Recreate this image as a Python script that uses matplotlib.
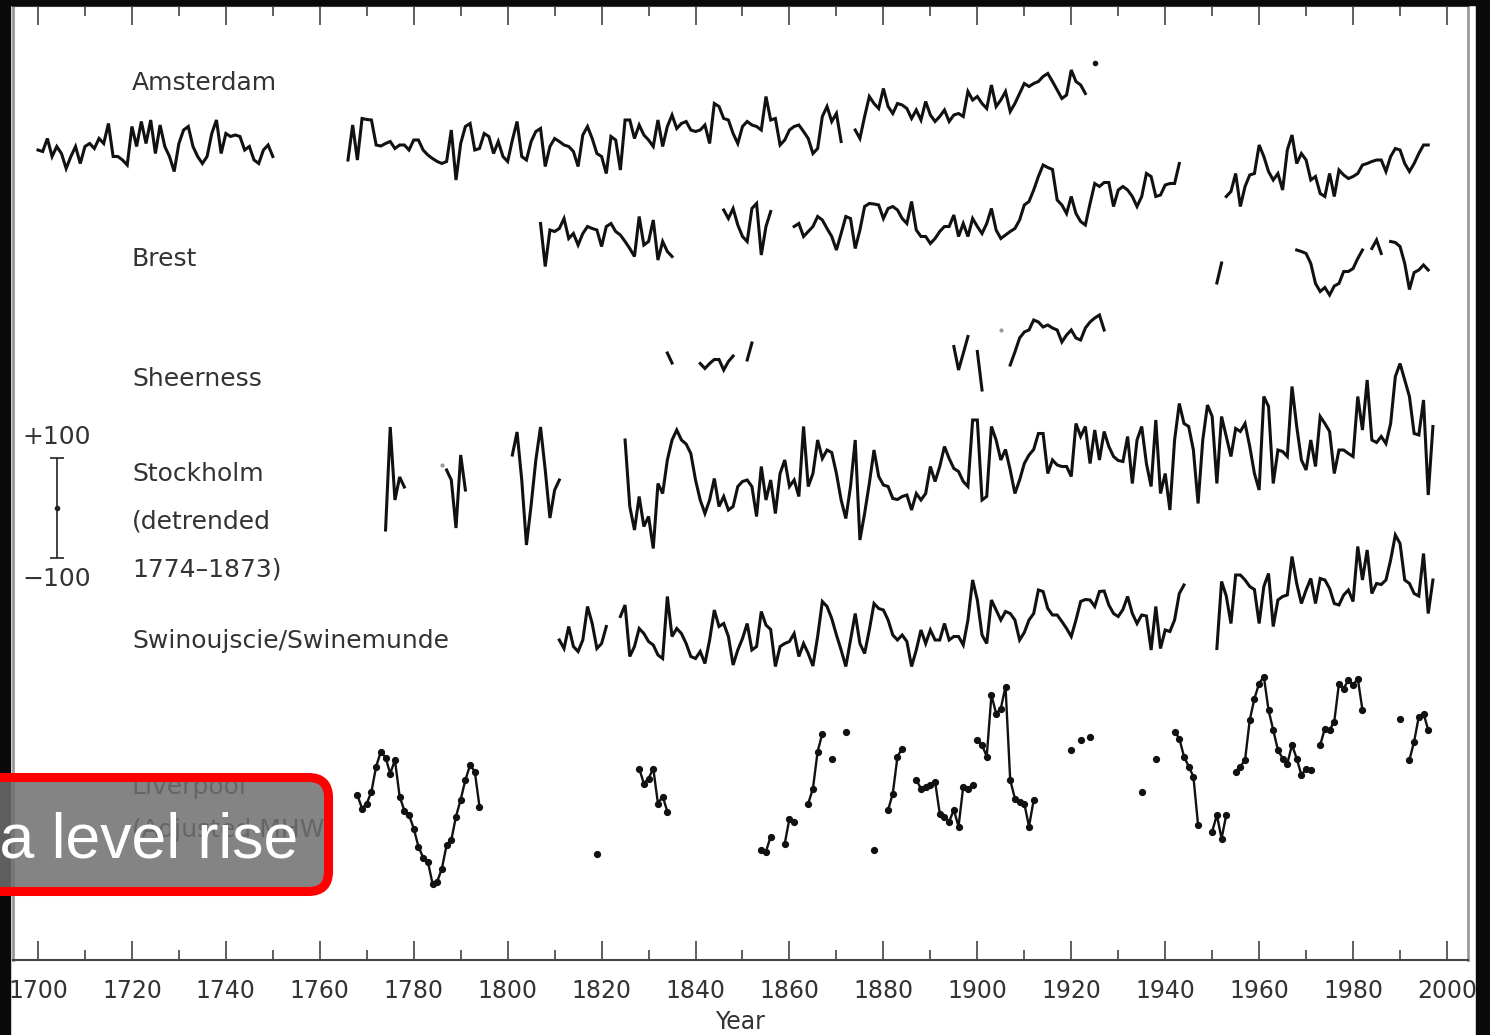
import numpy as np
import matplotlib
matplotlib.use("Agg")
import matplotlib.pyplot as plt
from matplotlib.patches import FancyBboxPatch, Rectangle
from matplotlib.ticker import MultipleLocator
from matplotlib.transforms import IdentityTransform

# annual mean sea level (mm), each list starts at the year given in its name
ams_1700 = [0, -3, 23, -13, 7, -7, -37, -13, 7, -27, 7, 13, 3, 23, 13, 53, -13, -13, -20, -30,
            47, 7, 57, 13, 60, -7, 50, 7, -13, -43, 13, 40, 47, 7, -13, -27, -13, 33, 60, -7,
            33, 27, 30, 27, 0, 7, -20, -27, 0, 10, -13]
ams_1766 = [-20, 50, -20, 63, 61, 60, 10, 8, 13, 17, 3, 10, 10, 0, 20, 20, 0, -10, -17, -23,
            -27, -23, 40, -60, 13, 47, 53, 0, 3, 33, 27, -7, 17, -13, -23, 20, 57, -13, -20, 17,
            37, 43, -33, 7, 23, 17, 10, 7, -3, -33, 30, 47, 23, -7, -13, -47, 27, 20, -40, 60,
            60, 23, 50, 30, 20, 7, 60, 7, 47, 70, 43, 53, 57, 40, 37, 40, 50, 13, 93, 87,
            63, 60, 33, 13, 47, 57, 50, 47, 40, 107, 60, 63, 10, 20, 40, 47, 50, 37, 23, -7,
            3, 67, 87, 57, 73, 17]
ams_1874 = [40, 23, 67, 107, 93, 83, 123, 87, 73, 93, 90, 83, 63, 80, 60, 97, 70, 57, 67, 80,
            57, 70, 73, 67, 117, 100, 107, 93, 83, 130, 87, 100, 117, 77, 93, 113, 133, 127, 133, 137,
            147, 153, 137, 120, 103, 110, 160, 137, 130, 113]
ams_1925 = [174]

brest_1807 = [33, -53, 20, 17, 23, 43, 3, 13, -10, 13, 27, 23, 20, -13, 27, 33, 17, 10, -3, -17,
              -33, 47, -10, -3, 40, -40, -3, -23, -33]
brest_1846 = [60, 43, 63, 30, 7, -3, 63, 73, -30, 27, 57]
brest_1861 = [27, 33, 7, 17, 27, 47, 40, 23, 7, -20, 13, 47, 43, -17, 20, 67, 73, 72, 70, 43,
              63, 67, 60, 43, 33, 77, 20, 7, 7, -7, 3, 17, 27, 27, 50, 7, 33, 7, 43, 27,
              13, 33, 63, 20, 3, 10, 17, 23, 40, 70, 77, 100, 127, 150, 145, 141, 80, 70, 53, 87,
              53, 37, 30, 73, 113, 107, 115, 115, 67, 100, 107, 100, 87, 67, 87, 133, 127, 87, 90, 110,
              113, 113, 153]
brest_1953 = [87, 97, 133, 67, 107, 130, 133, 190, 167, 137, 120, 133, 100, 180, 210, 153, 173, 160, 120, 127,
              93, 87, 133, 87, 140, 130, 123, 127, 133, 150, 153, 157, 160, 160, 137, 167, 183, 180, 153, 137,
              153, 173, 190, 190]

sheer_1834 = [14, -6]
sheer_1841 = [-7, -17, -7, 1, 1, -20, -3, 8]
sheer_1851 = [0, 34]
sheer_1895 = [27, -20, 13, 47]
sheer_1900 = [17, -60]
sheer_1905 = [60]
sheer_1907 = [-10, 16, 44, 56, 60, 80, 76, 66, 70, 64, 60, 36, 50, 60, 44, 40, 64, 76, 84, 90, 60]
sheer_1951 = [154, 194]
sheer_1968 = [220, 217, 213, 193, 153, 137, 145, 130, 148, 153, 177, 177, 183, 203, 220]
sheer_1984 = [223, 240, 213]
sheer_1988 = [237, 235, 227, 193, 141, 175, 180, 190, 180]

stock_1774 = [-100, 106, -40, 6, -14]
stock_1786 = [30]
stock_1787 = [20, 0, -96, 50, -20]
stock_1801 = [50, 96, 0, -130, -50, 40, 106, 20, -76, -20, 0]
stock_1825 = [80, -53, -100, -33, -93, -73, -137, -7, -27, 40, 80, 100, 80, 72, 53, 0, -40, -67, -40, 3,
              -53, -33, -60, -53, -13, -3, 0, -13, -73, 27, -40, 0, -67, 13, 40, -13, 0, -33, 107, -13,
              13, 80, 43, 60, 55, 13, -40, -77, -13, 80, -120, -67, -7, 60, 7, -10, -13, -37, -39, -33,
              -30, -60, -27, -40, -27, 27, -3, 27, 67, 43, 23, 17, -3, -13, 120, 120, -40, -33, 107, 80,
              40, 61, 20, -27, 0, 33, 50, 61, 93, 93, 13, 40, 30, 27, 27, 7, 113, 87, 107, 33,
              100, 40, 97, 67, 47, 39, 37, 87, -7, 80, 107, 33, -13, 120, -27, 13, -60, 80, 153, 113,
              107, 60, -47, 80, 150, 127, -7, 127, 87, 47, 103, 97, 113, 67, 13, -20, 167, 147, -7, 60,
              57, 47, 187, 107, 40, 20, 80, 27, 127, 113, 97, 13, 60, 60, 53, 47, 167, 100, 200, 80,
              75, 87, 73, 113, 207, 233, 200, 167, 93, 90, 160, -30, 107]

swin_1811 = [0, -17, 27, -13, -23, 0, 67, 33, -17, -7, 27]
swin_1824 = [47, 70, -33, -13, 23, 13, -3, -10, -30, -37, 87, 7, 23, 13, -7, -33, -37, -23, -47, 0,
             60, 27, 33, 7, -50, -20, 3, 33, -20, -13, 57, 30, 21, -53, -13, -7, -3, 13, -33, -7,
             -27, -52, 7, 77, 67, 43, 10, -20, -53, 0, 53, -7, -27, 20, 73, 63, 60, 40, 10, 0,
             10, -3, -53, -20, 20, -7, 20, 0, 0, 33, 0, 7, 7, -10, 40, 120, 80, 10, -7, 80,
             60, 40, 57, 53, 40, 0, 15, 40, 53, 100, 97, 63, 50, 50, 37, 23, 7, 40, 77, 81,
             80, 67, 97, 98, 70, 53, 47, 61, 87, 53, 33, 50, 48, -20, 67, -17, 20, 17, 40, 93,
             110]
swin_1951 = [-17, 117, 88, 33, 130, 130, 120, 107, 101, 33, 107, 133, 27, 80, 87, 90, 167, 113, 73, 100,
             123, 73, 123, 120, 103, 73, 70, 90, 100, 77, 187, 120, 180, 93, 113, 111, 120, 160, 210, 193,
             120, 113, 93, 88, 173, 53, 120]

# Liverpool adjusted mean high water, mm
liv_1768 = [10, -17, -7, 17, 67, 97, 85, 53, 80, 7, -21, -30, -57, -93, -115, -123, -167, -163, -137, -90,
            -80, -33, 1, 40, 70, 57, -13]
liv_1819 = [-107]
liv_1828 = [63, 33, 43, 63, -7, 7, -23]
liv_1854 = [-100, -103, -73]
liv_1859 = [-87, -37, -43]
liv_1864 = [-7, 23, 97, 133]
liv_1869 = [83]
liv_1872 = [137]
liv_1878 = [-100]
liv_1881 = [-20, 13, 87, 103]
liv_1887 = [40, 23, 27, 30, 37, -27, -33, -43, -20, -53, 27, 23, 30]
liv_1900 = [120, 110, 87, 210, 173, 183, 227, 40, 3, -3, -7, -53, 0]
liv_1920 = [100]
liv_1922 = [120]
liv_1924 = [127]
liv_1935 = [17]
liv_1938 = [83]
liv_1942 = [137, 123, 87, 67, 47, -50]
liv_1950 = [-63, -30, -77, -30]
liv_1955 = [57, 67, 80, 160, 203, 233, 247, 180, 140, 100, 83, 73, 110, 83, 50, 63, 60]
liv_1973 = [110, 143, 140, 157, 233, 223, 240, 230, 243, 180]
liv_1990 = [163]
liv_1992 = [80, 117, 167, 173, 140]

labels = ["Amsterdam", "Brest", "Sheerness", "Stockholm", "(detrended", "1774\u20131873)",
          "Swinoujscie/Swinemunde", "Liverpool", "(Adjusted MHW)"]
label_y = [1754, 1402, 1162, 972, 876, 782, 638, 346, 260]

# vertical position of each station's zero line
AMS, BRE, SHE, STO, SWI, LIV = 1620, 1440, 1200, 960, 640, 320

INK = "#111111"
TXT = "#333333"

fig = plt.figure(figsize=(14.9, 10.35), dpi=100)
ax = fig.add_axes([13 / 1490, 75 / 1035, 1455 / 1490, 954 / 1035])


def draw(start, vals, base, **kw):
    yrs = np.arange(start, start + len(vals))
    style = dict(color=INK, lw=2.2, solid_joinstyle="miter")
    style.update(kw)
    ax.plot(yrs, np.asarray(vals) + base, **style)


dot = dict(marker="o", ms=3, ls="none")

draw(1700, ams_1700, AMS)
draw(1766, ams_1766, AMS)
draw(1874, ams_1874, AMS)
draw(1925, ams_1925, AMS, **dot)

for y0, v in [(1807, brest_1807), (1846, brest_1846), (1861, brest_1861), (1953, brest_1953)]:
    draw(y0, v, BRE)

for y0, v in [(1834, sheer_1834), (1841, sheer_1841), (1851, sheer_1851), (1895, sheer_1895),
              (1900, sheer_1900), (1907, sheer_1907), (1951, sheer_1951), (1968, sheer_1968),
              (1984, sheer_1984), (1988, sheer_1988)]:
    draw(y0, v, SHE)
draw(1905, sheer_1905, SHE, marker="o", ms=2, ls="none", color="#999999")

for y0, v in [(1774, stock_1774), (1787, stock_1787), (1801, stock_1801), (1825, stock_1825)]:
    draw(y0, v, STO)
draw(1786, stock_1786, STO, marker="o", ms=2, ls="none", color="#999999")

for y0, v in [(1811, swin_1811), (1824, swin_1824), (1951, swin_1951)]:
    draw(y0, v, SWI)

liv = [(1768, liv_1768), (1819, liv_1819), (1828, liv_1828), (1854, liv_1854), (1859, liv_1859),
       (1864, liv_1864), (1869, liv_1869), (1872, liv_1872), (1878, liv_1878), (1881, liv_1881),
       (1887, liv_1887), (1900, liv_1900), (1920, liv_1920), (1922, liv_1922), (1924, liv_1924),
       (1935, liv_1935), (1938, liv_1938), (1942, liv_1942), (1950, liv_1950), (1955, liv_1955),
       (1973, liv_1973), (1990, liv_1990), (1992, liv_1992)]
for y0, v in liv:
    draw(y0, v, LIV, lw=1.7, marker="o", ms=4.2)

# station names
for txt, yy in zip(labels, label_y):
    ax.text(1720, yy, txt, fontsize=18, color=TXT, va="center", ha="left")

# +/-100 mm scale bar
ax.errorbar([1704], [904], yerr=[[100], [100]], fmt="o", ms=3, color="#222222",
            ecolor="#222222", elinewidth=1.2, capsize=5, capthick=1.2)
ax.text(1696.6, 1046, "+100", fontsize=18, color=TXT, va="center", ha="left")
ax.text(1696.6, 762, "\u2212100", fontsize=18, color=TXT, va="center", ha="left")

ax.set_xlim(1694.68, 2004.47)
ax.set_ylim(0, 1908)
ax.set_yticks([])
ax.set_xticks(range(1700, 2001, 20))
ax.xaxis.set_minor_locator(MultipleLocator(10))
ax.tick_params(axis="x", which="both", direction="in", top=True, bottom=True,
               color="#444444", width=1.2, labelsize=17, labelcolor=TXT, pad=14)
ax.tick_params(axis="x", which="major", length=14)
ax.tick_params(axis="x", which="minor", length=7)
ax.set_xlabel("Year", fontsize=17, color=TXT, labelpad=5)
for side in ["left", "right"]:
    ax.spines[side].set_color("#9a9a9a")
    ax.spines[side].set_linewidth(2)
for side in ["top", "bottom"]:
    ax.spines[side].set_color("#444444")
    ax.spines[side].set_linewidth(1.5)

# dark page edges around the scanned figure
for r in [(0, 0, 10 / 1490, 1), (1476 / 1490, 0, 14 / 1490, 1), (0, 1 - 5 / 1035, 1, 5 / 1035)]:
    fig.add_artist(Rectangle(r[:2], r[2], r[3], transform=fig.transFigure,
                             color="#0a0a0a", zorder=5))

# caption overlay (pixel coordinates, origin bottom-left)
box = FancyBboxPatch((-110, 1035 - 891.5), 438.5, 114,
                     boxstyle="round,pad=0,rounding_size=20", transform=IdentityTransform(),
                     facecolor=(0.43, 0.43, 0.43, 0.85), edgecolor="#ff0000", linewidth=6.5,
                     zorder=10)
fig.add_artist(box)
fig.text(111 / 1490, 1 - 858 / 1035, "Sea level rise", fontsize=45, color="white",
         family="Liberation Sans", ha="center", va="baseline", zorder=11)

fig.savefig("out.png", dpi=100)
